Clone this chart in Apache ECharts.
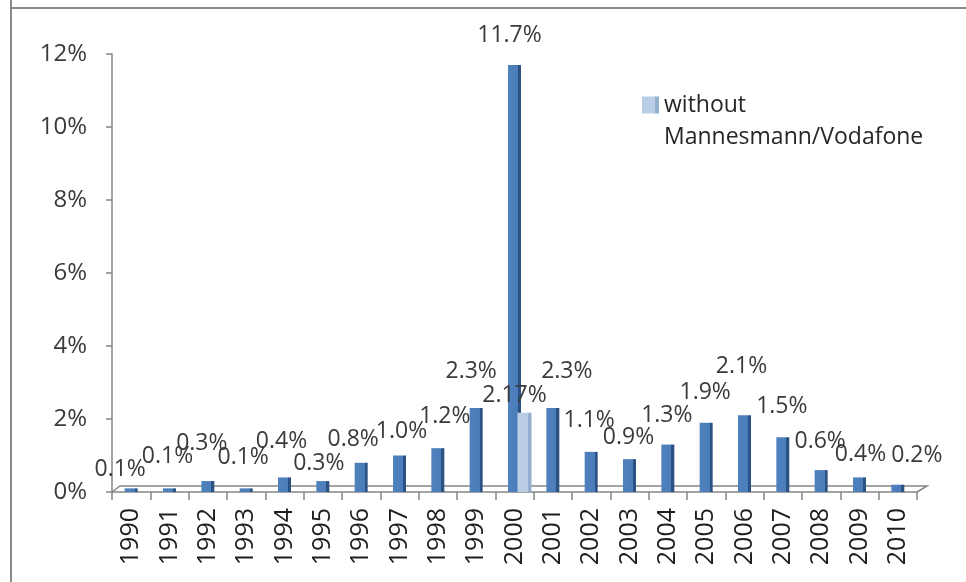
<!DOCTYPE html>
<html><head><meta charset="utf-8">
<script src="https://cdn.jsdelivr.net/npm/echarts@6/dist/echarts.min.js"></script>
<style>html,body{margin:0;padding:0;background:#fff}#c{width:966px;height:582px}</style>
</head><body><div id="c"></div>
<script>
// ---- data ----
const years = ['1990','1991','1992','1993','1994','1995','1996','1997','1998','1999','2000','2001','2002','2003','2004','2005','2006','2007','2008','2009','2010'];
const shares = [0.1,0.1,0.3,0.1,0.4,0.3,0.8,1.0,1.2,2.3,11.7,2.3,1.1,0.9,1.3,1.9,2.1,1.5,0.6,0.4,0.2];
const withoutMV = [null,null,null,null,null,null,null,null,null,null,2.17,null,null,null,null,null,null,null,null,null,null];
const yTickMin = 0, yTickMax = 12, yTickStep = 2;
const legendLabel = 'without\nMannesmann/Vodafone';

// ---- label placement nudges (style only) ----
const labelNudge = [[-11,-2],[-2,-15],[-6,-21],[-3,-14],[-3,-19],[-4,-1],[-8,-7],[2,-8],[7,-15],[-5,-20],
                    [-5,-13],[14,-20],[-2,-15],[-1,-5],[-1,-13],[-1,-14],[-3,-32],[-1,-14],[-1,-12],[1,-6],[19,-13]];
const lightNudge = [-10,-1];

const FONT = 'Open Sans';
const TXT = '#3a3a3a';
const AX = '#868686';

const chart = echarts.init(document.getElementById('c'));
const darkGrad = new echarts.graphic.LinearGradient(0,0,1,0,[
  {offset:0,color:'#4F81BD'},{offset:0.76,color:'#4A7DBA'},{offset:0.77,color:'#2C5283'},{offset:1,color:'#2C5283'}]);
const lightGrad = new echarts.graphic.LinearGradient(0,0,1,0,[
  {offset:0,color:'#BACEE6'},{offset:0.76,color:'#B9CDE5'},{offset:0.77,color:'#95AFCF'},{offset:1,color:'#95AFCF'}]);

chart.setOption({
  animation:false,
  backgroundColor:'#fff',
  textStyle:{fontFamily:FONT},
  grid:[{left:112, right:49, top:54, bottom:90}, {left:122, right:39, top:54, bottom:90}],
  legend:{
    data:[legendLabel], left:637, top:52, icon:'rect', itemWidth:17, itemHeight:17, itemGap:5,
    formatter:name=>' \n'+name,
    textStyle:{fontFamily:FONT, fontSize:23, lineHeight:32, color:'#262626'}
  },
  xAxis:[
    {type:'category', gridIndex:0, data:years,
     axisLine:{lineStyle:{color:AX, width:1.5}},
     axisTick:{show:true, length:8, lineStyle:{color:AX, width:1.5}},
     axisLabel:{rotate:90, margin:16, fontSize:25, color:'#1e1e1e', fontFamily:FONT},
     splitLine:{show:false}},
    {type:'category', gridIndex:1, data:years, show:false}
  ],
  yAxis:[
    {type:'value', gridIndex:0, min:yTickMin, max:yTickMax, interval:yTickStep,
     axisLine:{show:true, lineStyle:{color:AX, width:1.5}},
     axisTick:{show:true, length:6, lineStyle:{color:AX, width:1.5}},
     axisLabel:{formatter:'{value}%', margin:25, fontSize:24, color:TXT, fontFamily:FONT},
     splitLine:{show:false}},
    {type:'value', gridIndex:1, min:yTickMin, max:yTickMax, show:false, splitLine:{show:false}}
  ],
  series:[
    {name:'total', type:'bar', xAxisIndex:0, yAxisIndex:0, barWidth:13,
     itemStyle:{color:darkGrad},
     label:{show:true, position:'top', distance:5, fontSize:23, color:TXT, fontFamily:FONT,
            formatter:p=>p.value.toFixed(1)+'%'},
     data:shares.map((v,i)=>({value:v, label:{offset:labelNudge[i]}}))},
    {name:legendLabel, type:'bar', xAxisIndex:1, yAxisIndex:1, barWidth:14,
     itemStyle:{color:lightGrad},
     label:{show:true, position:'top', distance:5, fontSize:23, color:TXT, fontFamily:FONT,
            offset:lightNudge, formatter:p=>p.value+'%'},
     data:withoutMV}
  ],
  graphic:[
    {type:'line', shape:{x1:11,y1:0,x2:11,y2:582}, style:{stroke:'#8a8a8a', lineWidth:2}},
    {type:'line', shape:{x1:10,y1:8,x2:966,y2:8}, style:{stroke:'#8a8a8a', lineWidth:2}},
    {type:'polyline', shape:{points:[[112,492],[120,486],[927,486],[917,492]]}, style:{stroke:AX, lineWidth:1.5, fill:null}}
  ]
});
</script></body></html>
